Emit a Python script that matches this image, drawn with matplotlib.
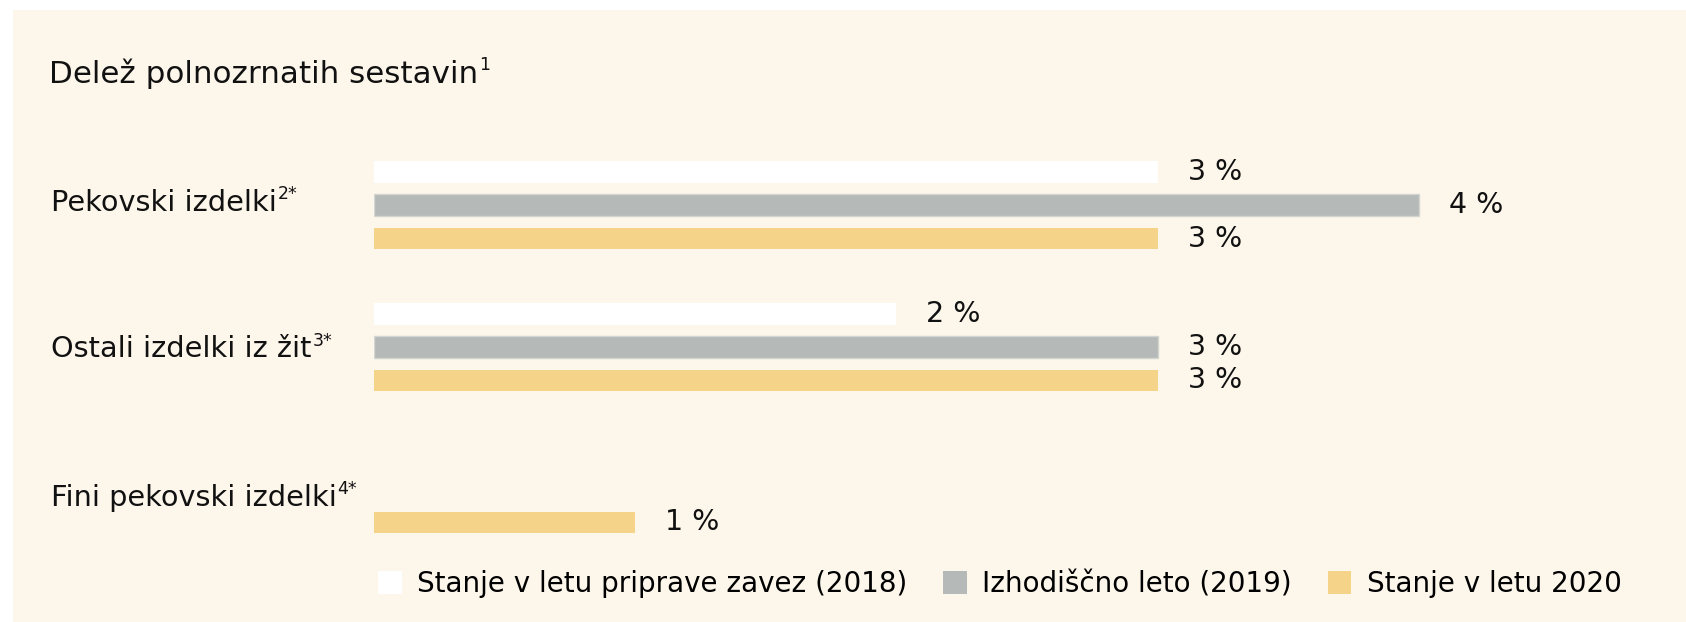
import numpy as np
import matplotlib.pyplot as plt
from matplotlib.patches import Patch, Rectangle
from matplotlib.transforms import blended_transform_factory

plt.rcParams['font.family'] = ['DejaVu Sans']

# Data
categories = ['Pekovski izdelki', 'Ostali izdelki iz žit', 'Fini pekovski izdelki']
footnotes = ['2*', '3*', '4*']
series_names = ['Stanje v letu priprave zavez (2018)', 'Izhodiščno leto (2019)', 'Stanje v letu 2020']
val_2018 = [3, 2, np.nan]
val_2019 = [4, 3, np.nan]
val_2020 = [3, 3, 1]

colors = ['#ffffff', '#b5bab9', '#f5d389']
bg = '#fdf6eb'
ink = '#111111'

fig = plt.figure(figsize=(16.86, 6.22), dpi=100)
fig.patch.set_facecolor('white')
fig.patches.append(Rectangle((13 / 1686, 0), 1, 612 / 622, transform=fig.transFigure,
                             facecolor=bg, edgecolor='none', zorder=-10))

ax = fig.add_axes([374 / 1686, 62 / 622, 1312 / 1686, 430 / 622])
ax.set_facecolor('none')
ax.set_xlim(0, 1312 / 261.2)
ax.set_ylim(2.5, -0.53)
ax.axis('off')

y = np.arange(len(categories))
offset = 0.235
height = 0.152
series = [val_2018, val_2019, val_2020]
for k, vals in enumerate(series):
    vals = np.array(vals, dtype=float)
    ok = ~np.isnan(vals)
    pos = y[ok] + (k - 1) * offset
    edge = '#d3d5d1' if k == 1 else 'none'
    ax.barh(pos, vals[ok], height=height, color=colors[k], edgecolor=edge, linewidth=1)
    for p, v in zip(pos, vals[ok]):
        ax.text(v + 0.115, p, f'{int(v)} %', va='center', ha='left', fontsize=20.5, color=ink)

# category labels with superscript footnote marks
label_shift = [0.039, 0.073, 0.118]
lab_tr = blended_transform_factory(fig.transFigure, ax.transData)
for i, (cat, fn) in enumerate(zip(categories, footnotes)):
    t = ax.text(51 / 1686, i + label_shift[i], cat, transform=lab_tr,
                fontsize=20.7, va='baseline', ha='left', color=ink)
    ax.annotate(fn, xy=(1, 1), xycoords=t, xytext=(0.5, 2.5), textcoords='offset points',
                fontsize=12.5, va='top', ha='left', color=ink, annotation_clip=False)

title = fig.text(49 / 1686, 1 - 83 / 622, 'Delež polnozrnatih sestavin', fontsize=22.3,
                 va='baseline', ha='left', color=ink)
ax.annotate('1', xy=(1, 1), xycoords=title, xytext=(0.5, 1.5), textcoords='offset points',
            fontsize=12.5, va='top', ha='left', color=ink, annotation_clip=False)

handles = [Patch(facecolor=c, edgecolor='none') for c in colors]
fig.legend(handles, series_names, loc='center left', bbox_to_anchor=(378 / 1686, 1 - 584.5 / 622),
           ncol=3, frameon=False, fontsize=20, handlelength=0.86, handleheight=0.9,
           handletextpad=0.545, columnspacing=1.29, borderpad=0, borderaxespad=0)

fig.savefig('out.png', dpi=100, facecolor=fig.get_facecolor())
